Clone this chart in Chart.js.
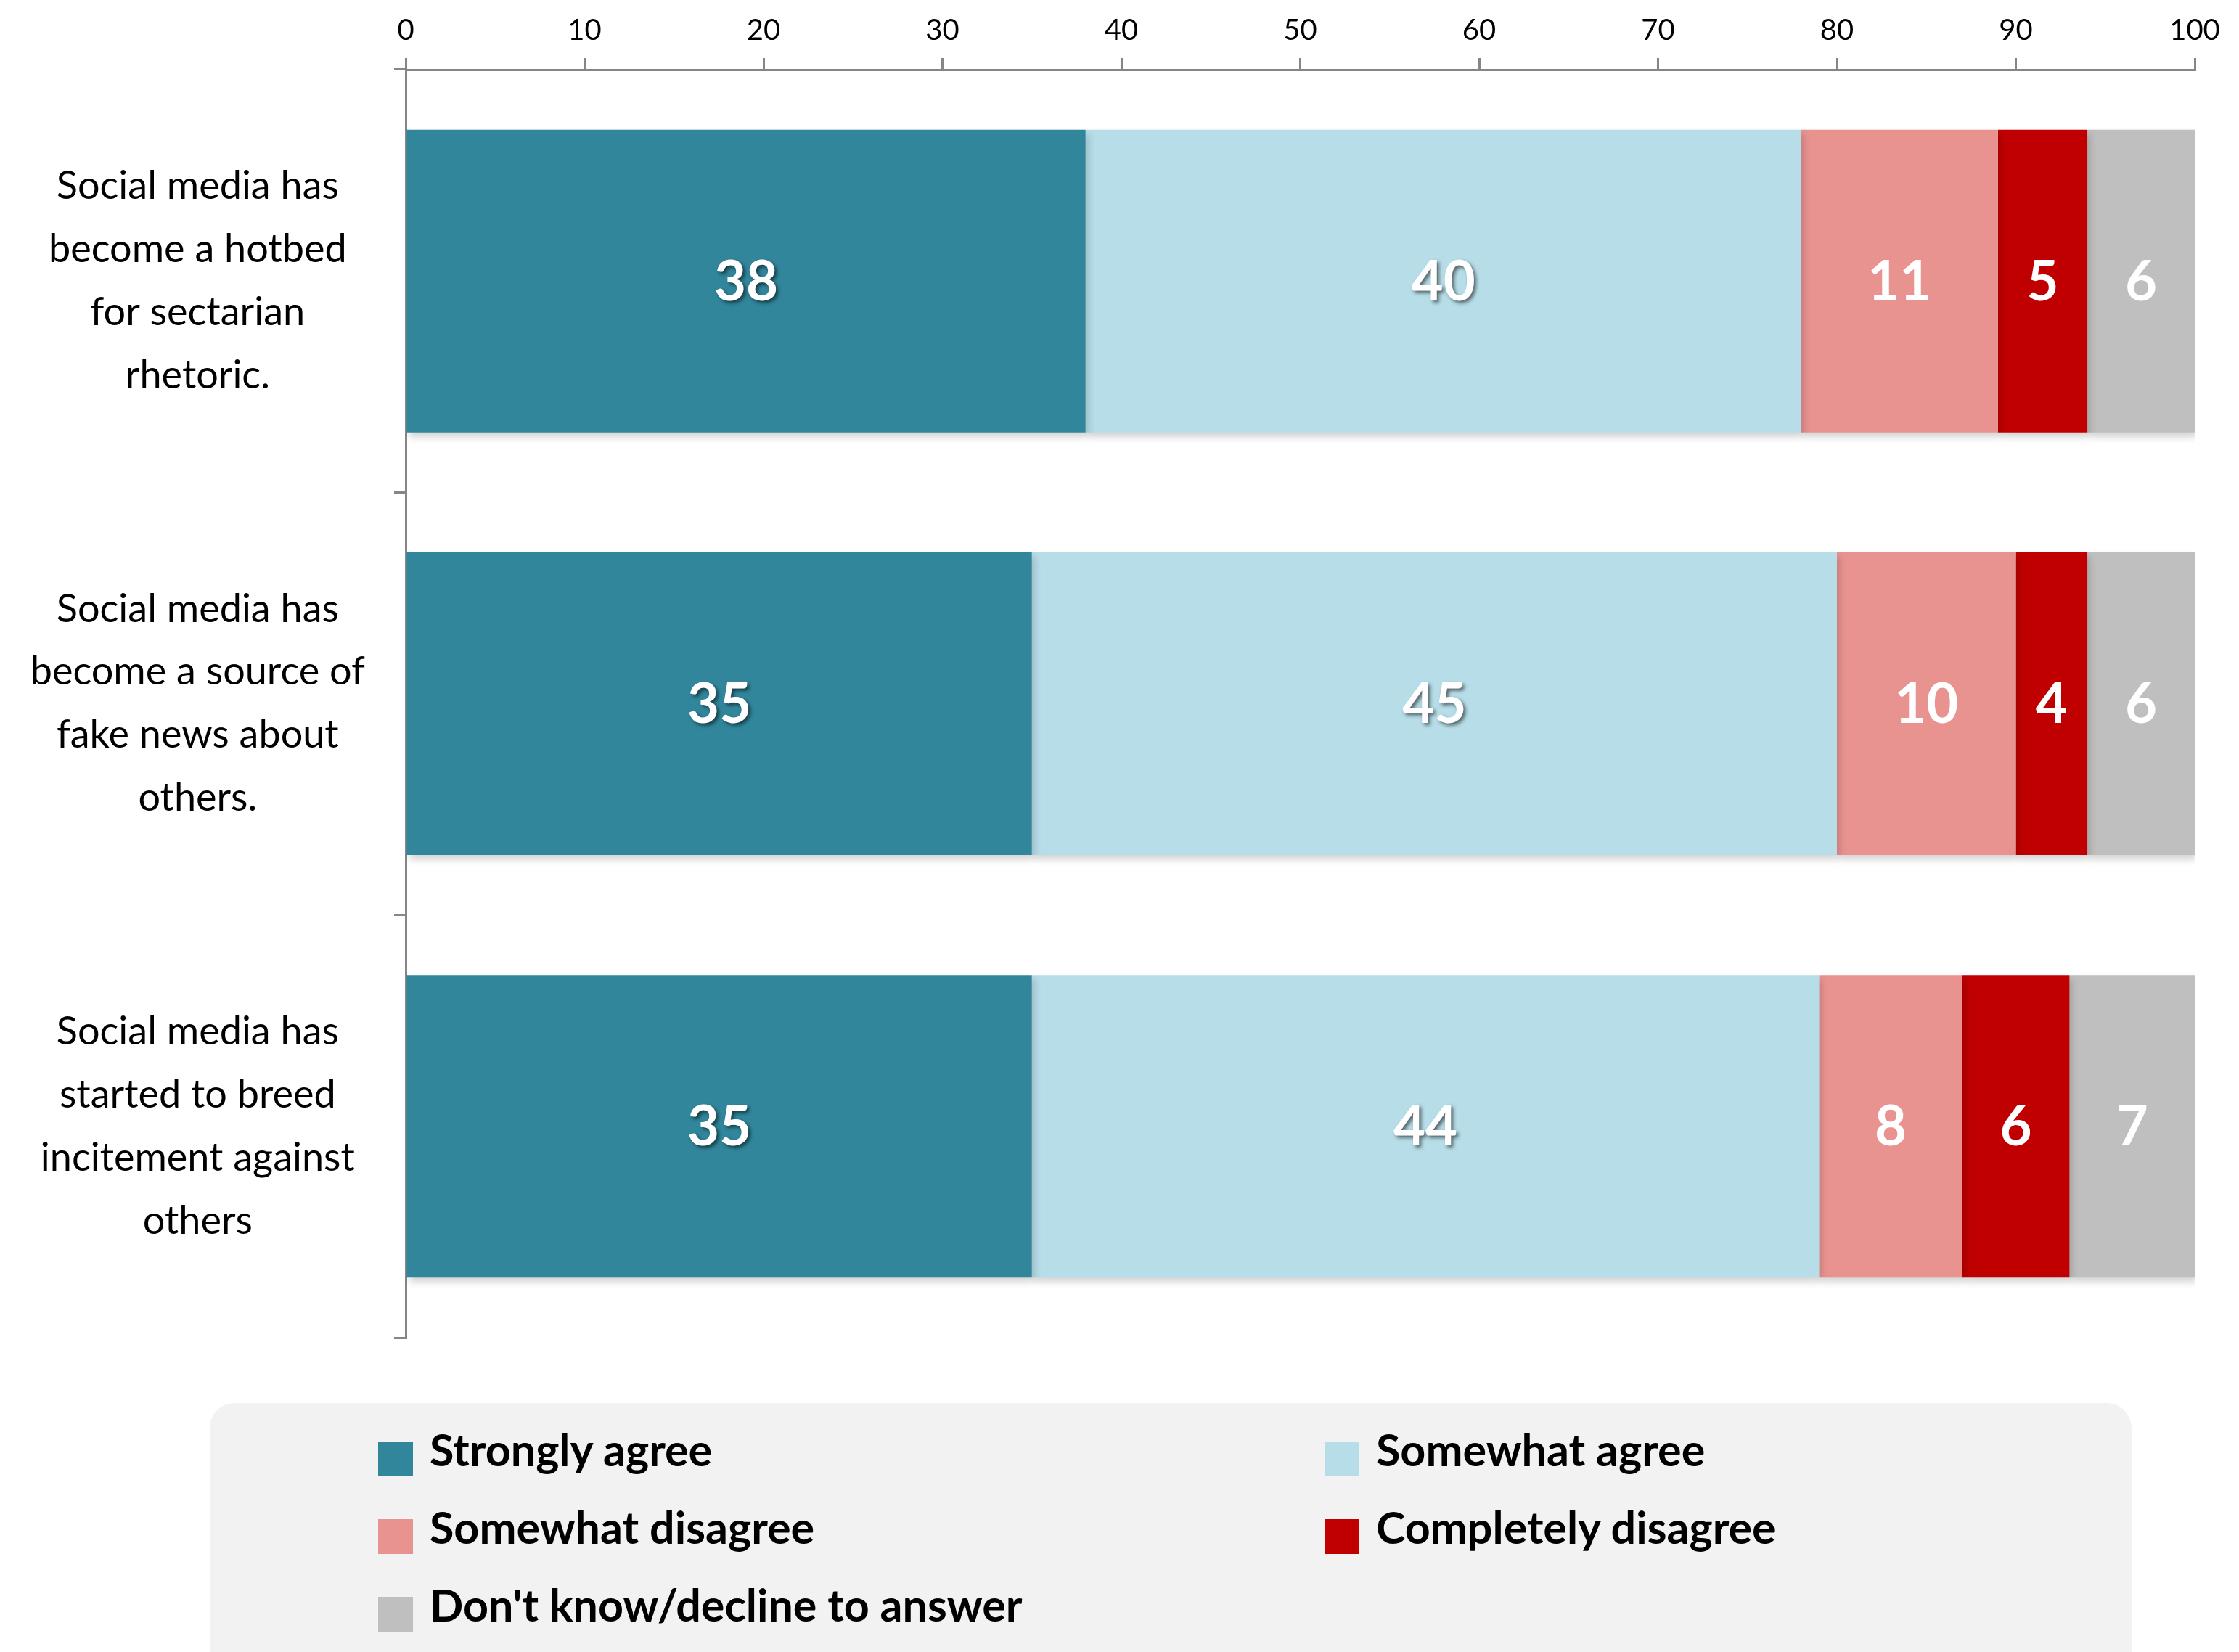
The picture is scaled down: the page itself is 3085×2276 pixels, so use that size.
<!DOCTYPE html>
<html>
<head>
<meta charset="utf-8">
<script src="https://cdn.jsdelivr.net/npm/chart.js@4/dist/chart.umd.min.js"></script>
<style>
    body { margin: 0; background: #fff; }
    #page { position: relative; width: 3085px; height: 2276px; overflow: hidden; }
    #chartBox { position: absolute; left: 0; top: 0; width: 3085px; height: 1890px; }
    #legend {
        position: absolute; left: 289px; top: 1933px; width: 2648px; height: 360px;
        background: #f2f2f2; border-radius: 34px 34px 0 0;
        box-sizing: border-box; padding: 53px 0 0 232px;
        display: grid; grid-template-columns: 1304px auto; grid-auto-rows: 107px;
        font-family: Lato, sans-serif; font-weight: bold; font-size: 61px; color: #000;
    }
    .item { display: flex; align-items: flex-start; height: 48px; }
    .swatch { width: 48px; height: 48px; margin-right: 23px; flex: none; }
    .item span { position: relative; top: -20px; line-height: 1; white-space: nowrap; }
</style>
</head>
<body>
<div id="page">
    <div id="chartBox"><canvas id="surveyChart"></canvas></div>
    <div id="legend"></div>
</div>
<script>
// Data
const statements = [
    ['Social media has', 'become a hotbed', 'for sectarian', 'rhetoric.'],
    ['Social media has', 'become a source of', 'fake news about', 'others.'],
    ['Social media has', 'started to breed', 'incitement against', 'others']
];
const seriesNames = ['Strongly agree', 'Somewhat agree', 'Somewhat disagree', 'Completely disagree', "Don't know/decline to answer"];
const stronglyAgree = [38, 35, 35];
const somewhatAgree = [40, 45, 44];
const somewhatDisagree = [11, 10, 8];
const completelyDisagree = [5, 4, 6];
const dontKnow = [6, 6, 7];
const xTicks = [0, 10, 20, 30, 40, 50, 60, 70, 80, 90, 100];

const seriesValues = [stronglyAgree, somewhatAgree, somewhatDisagree, completelyDisagree, dontKnow];
const seriesColors = ['#31869b', '#b7dde8', '#e99391', '#c00000', '#bfbfbf'];
const labelShadow = [true, true, false, false, false];

// soft shadow under the bars
const barShadow = {
    id: 'barShadow',
    beforeDatasetDraw(chart) {
        const ctx = chart.ctx;
        ctx.save();
        ctx.shadowColor = 'rgba(0,0,0,0.18)';
        ctx.shadowBlur = 10;
        ctx.shadowOffsetX = 3;
        ctx.shadowOffsetY = 6;
    },
    afterDatasetDraw(chart) {
        chart.ctx.restore();
    }
};

// value labels in the middle of each segment
const valueLabels = {
    id: 'valueLabels',
    afterDatasetsDraw(chart) {
        const ctx = chart.ctx;
        chart.data.datasets.forEach((ds, i) => {
            const meta = chart.getDatasetMeta(i);
            meta.data.forEach((bar, j) => {
                ctx.save();
                ctx.font = 'bold 76px Lato, sans-serif';
                ctx.fillStyle = '#fff';
                ctx.textAlign = 'center';
                ctx.textBaseline = 'middle';
                if (labelShadow[i]) {
                    ctx.shadowColor = 'rgba(0,0,0,0.55)';
                    ctx.shadowBlur = 5;
                    ctx.shadowOffsetX = 3;
                    ctx.shadowOffsetY = 3;
                }
                ctx.fillText(ds.data[j], (bar.x + bar.base) / 2, bar.y + 2);
                ctx.restore();
            });
        });
    }
};

function createChart() {
    const ctx = document.getElementById('surveyChart').getContext('2d');
    new Chart(ctx, {
        type: 'bar',
        data: {
            labels: statements,
            datasets: seriesValues.map((vals, i) => ({
                label: seriesNames[i],
                data: vals,
                backgroundColor: seriesColors[i],
                barPercentage: 0.716,
                categoryPercentage: 1
            }))
        },
        options: {
            indexAxis: 'y',
            responsive: true,
            maintainAspectRatio: false,
            animation: false,
            layout: { padding: { left: 33, right: 61, top: 4, bottom: 47 } },
            plugins: {
                legend: { display: false },
                tooltip: { enabled: false }
            },
            scales: {
                x: {
                    position: 'top',
                    stacked: true,
                    min: 0,
                    max: 100,
                    afterBuildTicks: axis => { axis.ticks = xTicks.map(v => ({ value: v })); },
                    border: { color: '#868686', width: 3 },
                    grid: { drawOnChartArea: false, drawTicks: true, tickLength: 16, color: '#868686', lineWidth: 3 },
                    ticks: { color: '#000', padding: 14, font: { family: 'Lato, sans-serif', size: 40 } }
                },
                y: {
                    stacked: true,
                    afterFit: scale => {
                        scale.paddingTop = 0;
                        scale.paddingBottom = 0;
                        scale.width = 526;
                    },
                    border: { color: '#868686', width: 3 },
                    grid: { offset: true, drawOnChartArea: false, drawTicks: true, tickLength: 16, color: '#868686', lineWidth: 3 },
                    ticks: {
                        color: '#000',
                        crossAlign: 'center',
                        padding: 40,
                        font: { family: 'Lato, sans-serif', size: 54, lineHeight: 1.61 }
                    }
                }
            }
        },
        plugins: [barShadow, valueLabels]
    });
}

function createLegend() {
    const box = document.getElementById('legend');
    box.innerHTML = seriesNames.map((name, i) => `
        <div class="item"><div class="swatch" style="background:${seriesColors[i]}"></div><span>${name}</span></div>
    `).join('');
}

createLegend();
createChart();
</script>
</body>
</html>
